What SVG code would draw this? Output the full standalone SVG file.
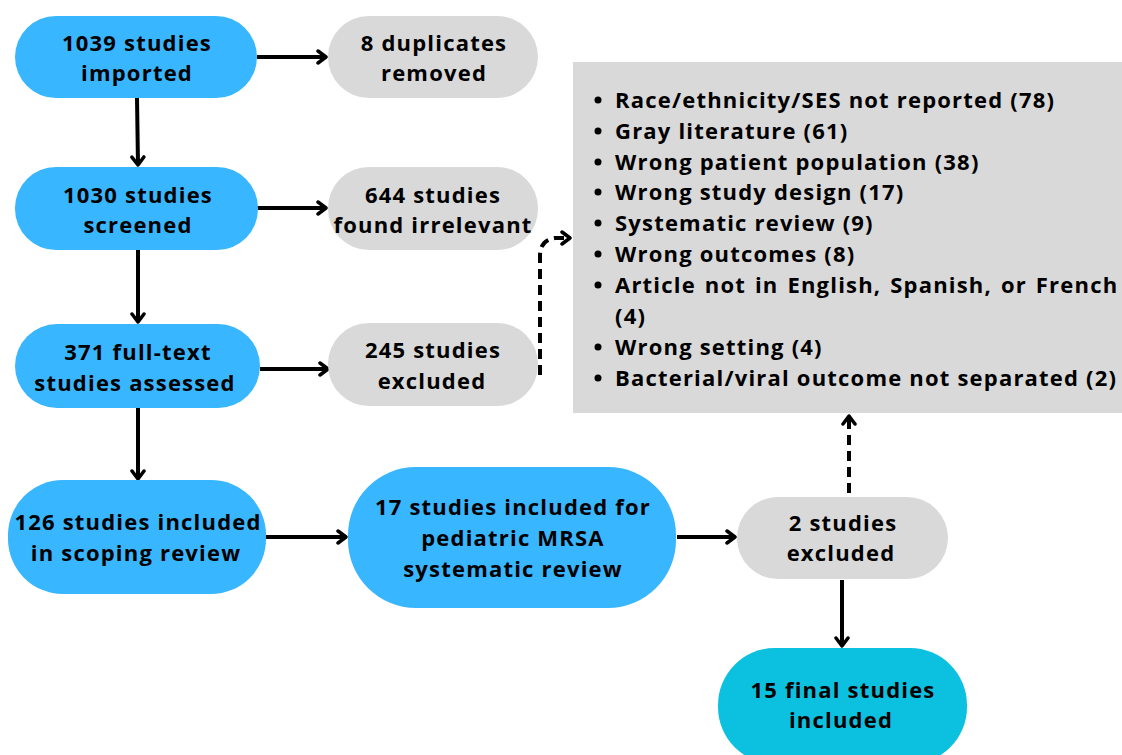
<svg xmlns="http://www.w3.org/2000/svg" width="1122" height="755" viewBox="0 0 1122 755">
<defs>
<style>
.t{font-family:"Open Sans","Liberation Sans",sans-serif;font-weight:700;font-size:22px;letter-spacing:1.2px;fill:#000;text-anchor:middle}
.l{font-family:"Open Sans","Liberation Sans",sans-serif;font-weight:700;font-size:22px;letter-spacing:1.2px;fill:#000}
.blue{fill:#38b6ff}
.gray{fill:#d9d9d9}
.teal{fill:#0cc0df}
.c{fill:none;stroke:#000;stroke-width:4}
.d{fill:none;stroke:#000;stroke-width:4;stroke-dasharray:10 6}
</style>
<marker id="ah" viewBox="0 0 12 16" refX="10" refY="8" markerWidth="12" markerHeight="16" orient="auto" markerUnits="userSpaceOnUse">
<path d="M2,2 L10,8 L2,14" fill="none" stroke="#000" stroke-width="3.5" stroke-linecap="round" stroke-linejoin="round"/>
</marker>
</defs>
<rect width="1122" height="755" fill="#fff"/>
<g id="connectors">
<line class="c" x1="257" y1="57" x2="326" y2="57" marker-end="url(#ah)"/>
<line class="c" x1="257" y1="208" x2="326" y2="208" marker-end="url(#ah)"/>
<line class="c" x1="260" y1="369" x2="328" y2="369" marker-end="url(#ah)"/>
<line class="c" x1="137" y1="98" x2="138" y2="165" marker-end="url(#ah)"/>
<line class="c" x1="138" y1="250" x2="138" y2="322" marker-end="url(#ah)"/>
<line class="c" x1="138" y1="408" x2="138" y2="479" marker-end="url(#ah)"/>
<line class="c" x1="266" y1="537" x2="346" y2="537" marker-end="url(#ah)"/>
<line class="c" x1="677" y1="537" x2="735" y2="537" marker-end="url(#ah)"/>
<line class="c" x1="842" y1="580" x2="842" y2="646" marker-end="url(#ah)"/>
<path class="d" d="M540,375 L540,256 Q540,240 555,238 L570,238" marker-end="url(#ah)"/>
<line class="d" x1="849" y1="493" x2="849" y2="416" marker-end="url(#ah)"/>
</g>
<g id="n1"><rect class="blue" x="15" y="16" width="242" height="82" rx="41"/><text class="t" x="137" y="51">1039 studies</text><text class="t" x="137" y="81">imported</text></g>
<g id="n2"><rect class="gray" x="328" y="16" width="210" height="82" rx="41"/><text class="t" x="434" y="51">8 duplicates</text><text class="t" x="434" y="81">removed</text></g>
<g id="n3"><rect class="blue" x="15" y="167" width="243" height="83" rx="41"/><text class="t" x="138" y="203">1030 studies</text><text class="t" x="138" y="233">screened</text></g>
<g id="n4"><rect class="gray" x="328" y="167" width="210" height="83" rx="41"/><text class="t" x="433" y="203">644 studies</text><text class="t" x="433" y="233">found irrelevant</text></g>
<g id="n5"><rect class="blue" x="15" y="324" width="245" height="84" rx="42"/><text class="t" x="138" y="360">371 full-text</text><text class="t" x="135" y="391">studies assessed</text></g>
<g id="n6"><rect class="gray" x="328" y="323" width="210" height="83" rx="41"/><text class="t" x="433" y="358">245 studies</text><text class="t" x="432" y="389">excluded</text></g>
<g id="n7"><rect class="blue" x="8" y="480" width="258" height="114" rx="55"/><text class="t" x="138" y="530">126 studies included</text><text class="t" x="136" y="561">in scoping review</text></g>
<g id="n8"><rect class="blue" x="348" y="467" width="328" height="141" rx="68"/><text class="t" x="513" y="515">17 studies included for</text><text class="t" x="513" y="546">pediatric MRSA</text><text class="t" x="513" y="577">systematic review</text></g>
<g id="n9"><rect class="gray" x="737" y="497" width="211" height="82" rx="41"/><text class="t" x="843" y="531">2 studies</text><text class="t" x="841" y="561">excluded</text></g>
<g id="n10"><rect class="teal" x="718" y="648" width="249" height="116" rx="57"/><text class="t" x="843" y="698">15 final studies</text><text class="t" x="841" y="728">included</text></g>
<g id="n11">
<rect class="gray" x="573" y="62" width="549" height="351"/>
<g fill="#000">
<circle cx="598" cy="100" r="3.5"/><circle cx="598" cy="131" r="3.5"/><circle cx="598" cy="162" r="3.5"/><circle cx="598" cy="192" r="3.5"/><circle cx="598" cy="223" r="3.5"/><circle cx="598" cy="254" r="3.5"/><circle cx="598" cy="285" r="3.5"/><circle cx="598" cy="347" r="3.5"/><circle cx="598" cy="378" r="3.5"/>
</g>
<text class="l" x="615" y="108">Race/ethnicity/SES not reported (78)</text>
<text class="l" x="615" y="139">Gray literature (61)</text>
<text class="l" x="615" y="170">Wrong patient population (38)</text>
<text class="l" x="615" y="200">Wrong study design (17)</text>
<text class="l" x="615" y="231">Systematic review (9)</text>
<text class="l" x="615" y="262">Wrong outcomes (8)</text>
<text class="l" x="615" y="293" word-spacing="2">Article not in English, Spanish, or French</text>
<text class="l" x="615" y="324">(4)</text>
<text class="l" x="615" y="355">Wrong setting (4)</text>
<text class="l" x="615" y="386">Bacterial/viral outcome not separated (2)</text>
</g>
</svg>
